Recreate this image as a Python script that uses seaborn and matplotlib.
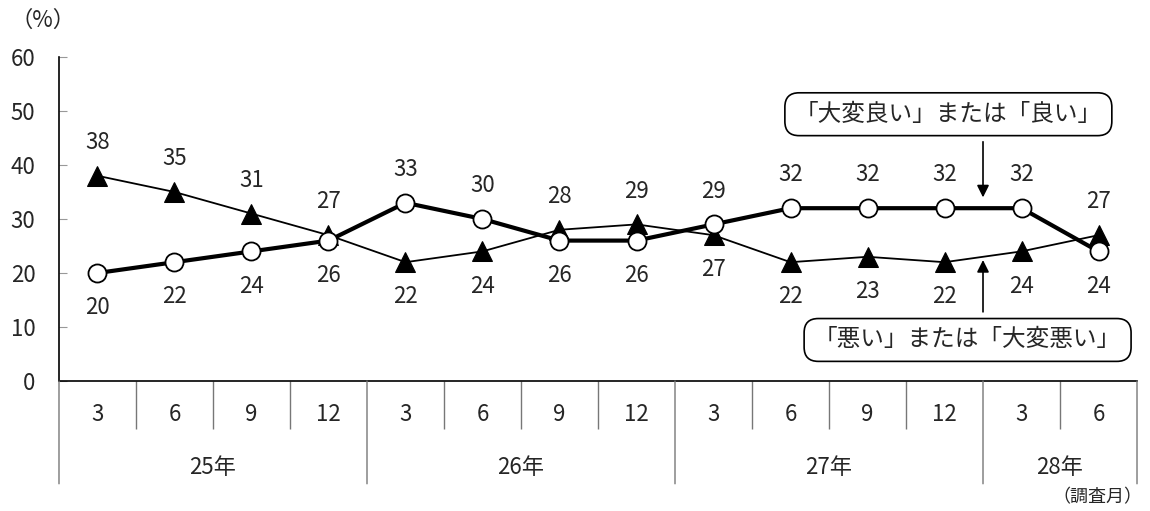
import numpy as np
import pandas as pd
import matplotlib
matplotlib.use("Agg")
import matplotlib.pyplot as plt
import seaborn as sns

# survey months (year in Heisei, month)
years = ["25年", "25年", "25年", "25年", "26年", "26年", "26年", "26年",
         "27年", "27年", "27年", "27年", "28年", "28年"]
months = ["3", "6", "9", "12", "3", "6", "9", "12", "3", "6", "9", "12", "3", "6"]

good = [20, 22, 24, 26, 33, 30, 26, 26, 29, 32, 32, 32, 32, 24]
bad = [38, 35, 31, 27, 22, 24, 28, 29, 27, 22, 23, 22, 24, 27]

good_label = "「大変良い」または「良い」"
bad_label = "「悪い」または「大変悪い」"

sns.set_style("ticks")
plt.rcParams['font.family'] = ['Noto Sans CJK JP', 'DejaVu Sans']
FS = 16

x = np.arange(len(months))
df = pd.DataFrame({"x": x, "good": good, "bad": bad})

fig = plt.figure(figsize=(11.5, 5.11), dpi=100)
ax = fig.add_axes([0.0513, 0.2544, 0.9374, 0.6341])

sns.lineplot(data=df, x="x", y="bad", ax=ax, color="black", linewidth=1.3,
             marker="^", markersize=14, markerfacecolor="black",
             markeredgecolor="black", zorder=3)
sns.lineplot(data=df, x="x", y="good", ax=ax, color="black", linewidth=3,
             marker="o", markersize=13, markerfacecolor="white",
             markeredgecolor="black", markeredgewidth=1.3, zorder=4)

# value labels: higher series above, lower below
for i in range(len(x)):
    g_up = good[i] > bad[i]
    ax.annotate(str(good[i]), (x[i], good[i]), xytext=(0, 24 if g_up else -25),
                textcoords="offset points", ha="center", va="center", fontsize=FS)
    ax.annotate(str(bad[i]), (x[i], bad[i]), xytext=(0, -25 if g_up else 24),
                textcoords="offset points", ha="center", va="center", fontsize=FS)

ax.set_xlim(-0.5, len(x) - 0.5)
ax.set_ylim(0, 60)
ax.set_yticks(range(0, 61, 10))
ax.tick_params(axis="y", direction="in", length=6, color="#999999",
               pad=17, labelsize=FS)
ax.set_xlabel("")
ax.set_ylabel("")

# month labels and category separators
ax.set_xticks(x)
ax.set_xticklabels(months, fontsize=FS)
ax.tick_params(axis="x", length=0, pad=16)
bounds = np.arange(len(x) + 1) - 0.5
year_bounds = [b for k, b in enumerate(bounds)
               if k == 0 or k == len(x) or years[k] != years[k - 1]]
ax.set_xticks([b for b in bounds if b not in year_bounds], minor=True)
ax.tick_params(axis="x", which="minor", direction="out", length=34.5,
               color="#777777", width=1)
trans = ax.get_xaxis_transform()
for b in year_bounds:
    ax.annotate("", xy=(b, 0), xycoords=trans, xytext=(0, -74),
                textcoords="offset points",
                arrowprops=dict(arrowstyle="-", color="#777777", lw=1,
                                shrinkA=0, shrinkB=0))
for a, b in zip(year_bounds[:-1], year_bounds[1:]):
    ax.annotate(years[int(a + 0.5)], ((a + b) / 2, 0), xycoords=trans,
                xytext=(0, -62), textcoords="offset points",
                ha="center", va="center", fontsize=FS)

for s in ["top", "right"]:
    ax.spines[s].set_visible(False)
for s in ["left", "bottom"]:
    ax.spines[s].set_color("black")
    ax.spines[s].set_linewidth(1.2)

# callouts
box = dict(boxstyle="round,pad=0.42,rounding_size=0.6", fc="white",
           ec="black", lw=1.2)
ax.text(11.05, 49.4, good_label, ha="center", va="center", fontsize=FS + 1,
        bbox=box, zorder=5)
ax.annotate("", xy=(11.5, 34), xytext=(11.5, 44.3),
            arrowprops=dict(arrowstyle="-|>", color="black", lw=1.2,
                            mutation_scale=18, shrinkA=0, shrinkB=0))
ax.text(11.3, 7.6, bad_label, ha="center", va="center", fontsize=FS + 1,
        bbox=box, zorder=5)
ax.annotate("", xy=(11.5, 22.4), xytext=(11.5, 12.8),
            arrowprops=dict(arrowstyle="-|>", color="black", lw=1.2,
                            mutation_scale=18, shrinkA=0, shrinkB=0))

fig.text(0.009, 0.96, "（%）", fontsize=FS, ha="left", va="center")
fig.text(0.993, 0.027, "（調査月）", fontsize=FS - 3, ha="right", va="center")

fig.savefig("out.png", dpi=100)
